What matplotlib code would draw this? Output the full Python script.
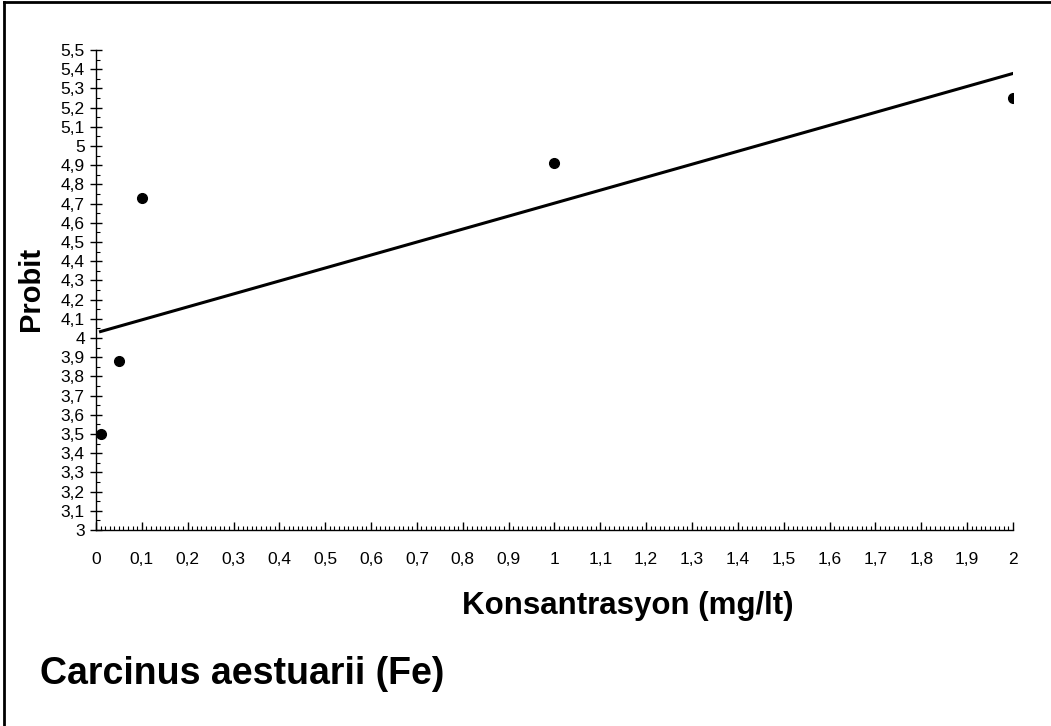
import numpy as np
import matplotlib
matplotlib.use("Agg")
import matplotlib.pyplot as plt
from matplotlib.ticker import MultipleLocator, FuncFormatter
from matplotlib.lines import Line2D

# ===================================================
# DATA
# ===================================================

konsantrasyon = [0.01, 0.05, 0.1, 1.0, 2.0]
probit = [3.50, 3.88, 4.73, 4.91, 5.25]

x_label = "Konsantrasyon (mg/lt)"
y_label = "Probit"
title = "Carcinus aestuarii (Fe)"

# ===================================================
# PLOT
# ===================================================

plt.rcParams["font.family"] = ["Liberation Sans", "DejaVu Sans"]

fig = plt.figure(figsize=(10.51, 7.26), dpi=100)
ax = fig.add_axes([0.0913, 0.270, 0.8725, 0.661])

ax.plot(konsantrasyon, probit, "o", color="black", markersize=7, zorder=3)

# linear trend line (least squares)
slope, intercept = np.polyfit(konsantrasyon, probit, 1)
xs = np.array([min(konsantrasyon), max(konsantrasyon)])
ax.plot(xs, slope * xs + intercept, color="black", linewidth=2.2)

ax.set_xlim(0, 2)
ax.set_ylim(3, 5.5)

ax.spines["top"].set_visible(False)
ax.spines["right"].set_visible(False)
ax.spines["left"].set_linewidth(1.0)
ax.spines["bottom"].set_linewidth(1.0)

ax.xaxis.set_major_locator(MultipleLocator(0.1))
ax.xaxis.set_minor_locator(MultipleLocator(0.01))
ax.yaxis.set_major_locator(MultipleLocator(0.1))
ax.yaxis.set_minor_locator(MultipleLocator(0.05))

fmt = FuncFormatter(lambda v, p: f"{round(v, 1):g}".replace(".", ","))
ax.xaxis.set_major_formatter(fmt)
ax.yaxis.set_major_formatter(fmt)

ax.tick_params(axis="x", which="major", direction="in", length=6,
               width=1, pad=16, labelsize=12.5)
ax.tick_params(axis="x", which="minor", direction="in", length=3, width=0.8)
ax.tick_params(axis="y", which="major", direction="inout", length=8,
               width=1, pad=4, labelsize=12.5)
ax.tick_params(axis="y", which="minor", direction="in", length=3, width=0.8)

ax.set_xlabel(x_label, fontsize=22.5, fontweight="bold")
ax.xaxis.set_label_coords(0.58, -0.128)
ax.set_ylabel(y_label, fontsize=21, fontweight="bold")
ax.yaxis.set_label_coords(-0.056, 0.503)

fig.text(0.038, 0.072, title, fontsize=27, fontweight="bold",
         ha="left", va="center")

# outer frame of the chart area
fig.add_artist(Line2D([0.004, 0.004], [0, 0.997], transform=fig.transFigure,
                      color="black", linewidth=2))
fig.add_artist(Line2D([0.004, 1], [0.997, 0.997], transform=fig.transFigure,
                      color="black", linewidth=2))

fig.savefig("out.png", dpi=100)
